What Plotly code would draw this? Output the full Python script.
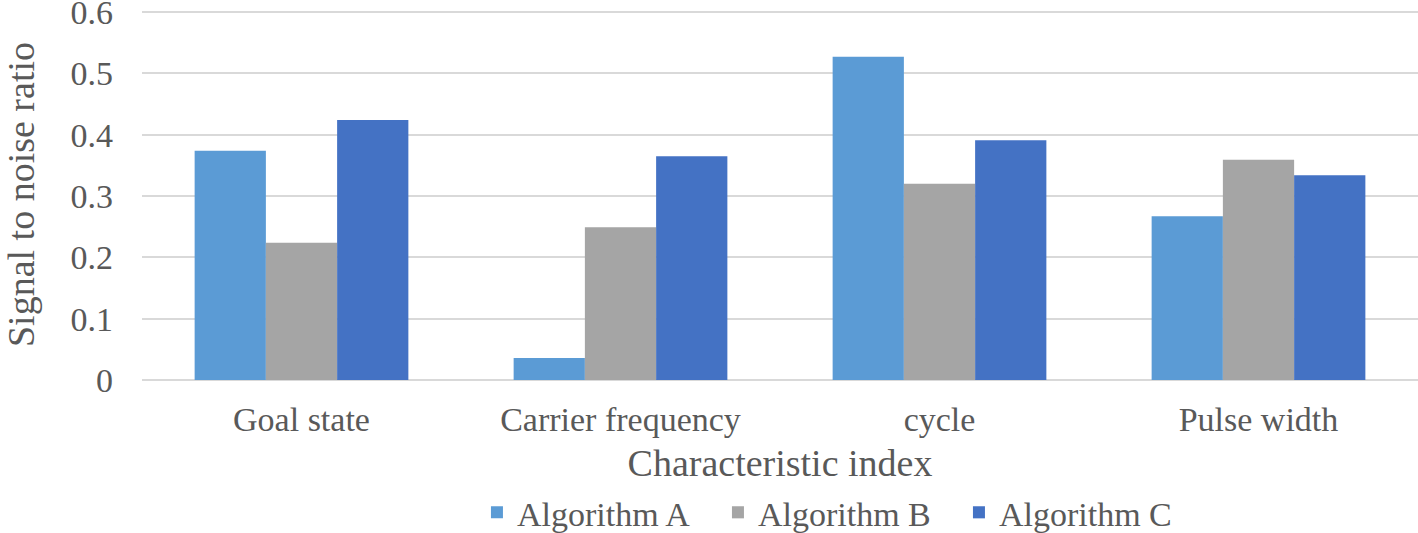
import plotly.graph_objects as go

categories = ["Goal state", "Carrier frequency", "cycle", "Pulse width"]
algo_a = [0.374, 0.036, 0.527, 0.267]
algo_b = [0.224, 0.249, 0.320, 0.359]
algo_c = [0.424, 0.365, 0.391, 0.334]
series_names = ["Algorithm A", "Algorithm B", "Algorithm C"]
colors = ["#5B9BD5", "#A5A5A5", "#4472C4"]
y_ticks = [0, 0.1, 0.2, 0.3, 0.4, 0.5, 0.6]
y_tick_text = ["0", "0.1", "0.2", "0.3", "0.4", "0.5", "0.6"]

fig = go.Figure()
for name, vals, col in zip(series_names, [algo_a, algo_b, algo_c], colors):
    fig.add_trace(go.Bar(x=categories, y=vals, name=name, marker=dict(color=col, line=dict(width=0))))

font_family = "Liberation Serif"
fig.update_layout(
    width=1418, height=533,
    margin=dict(l=142, r=0, t=9, b=153, autoexpand=False),
    paper_bgcolor="white", plot_bgcolor="white",
    barmode="group", bargap=0.33, bargroupgap=0,
    font=dict(family=font_family, size=34, color="#595959"),
    showlegend=True,
    legend=dict(orientation="h", x=0.2625, xanchor="left", yref="container", y=0.038, yanchor="middle",
                font=dict(size=34, color="#595959"), itemwidth=30, traceorder="normal",
                entrywidth=196, entrywidthmode="pixels"),
    xaxis=dict(showgrid=False, showline=False, ticks="", tickfont=dict(size=34),
               automargin=False, ticklabelstandoff=16,
               title=dict(text="Characteristic index", font=dict(size=38), standoff=24)),
    yaxis=dict(range=[0, 0.605], tickvals=y_ticks, ticktext=y_tick_text,
               showgrid=True, gridcolor="#D9D9D9", gridwidth=2,
               zeroline=True, zerolinecolor="#D9D9D9", zerolinewidth=2,
               showline=False, ticks="", tickfont=dict(size=34), ticklabelstandoff=28,
               ticklabeloverflow="allow", automargin=False,
               title=dict(text="Signal to noise ratio", font=dict(size=38), standoff=31)),
)
fig.write_html("out.html", config={"displayModeBar": False},
               post_script="document.body.style.margin='0';document.body.style.overflow='hidden';")
